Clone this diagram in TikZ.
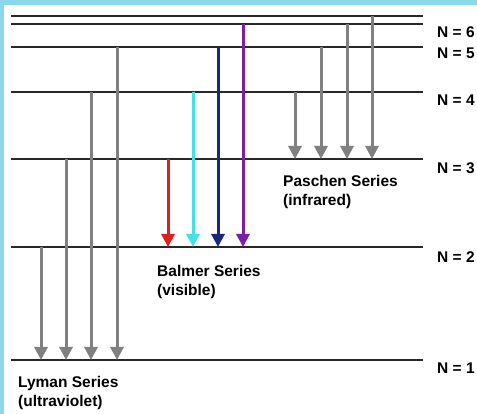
\documentclass[tikz,border=0pt]{standalone}
\usepackage{fontspec}
\setmainfont{Liberation Sans}
\usetikzlibrary{arrows.meta}
\definecolor{frameblue}{RGB}{140,216,232}
\definecolor{levelcol}{RGB}{40,40,40}
\definecolor{lymangray}{RGB}{128,128,128}
\definecolor{balred}{RGB}{225,30,30}
\definecolor{balcyan}{RGB}{70,225,230}
\definecolor{balnavy}{RGB}{25,40,125}
\definecolor{balpurple}{RGB}{125,30,170}
\tikzset{
  level/.style={draw=levelcol, line width=2pt},
  trans/.style={line width=3pt, -{Triangle[width=13pt,length=13pt]}},
  lbl/.style={font=\bfseries\fontsize{15.5}{18}\selectfont, inner sep=0pt, anchor=west},
  serieslbl/.style={font=\bfseries\fontsize{15.5}{19}\selectfont, inner sep=0pt, anchor=north west, align=left},
}
\begin{document}
\begin{tikzpicture}[x=1pt, y=-1pt]
  % page frame
  \fill[frameblue] (0,0) rectangle (477,414);
  \fill[white] (4,5) rectangle (477,414);
  \useasboundingbox (0,0) rectangle (477,414);

  % energy levels: y position of each level
  \foreach \n/\y in {7/16, 6/24, 5/47, 4/92, 3/159, 2/247, 1/360} {
    \coordinate (lvl\n W) at (11,\y);
    \coordinate (lvl\n E) at (423,\y);
    \draw[level] (lvl\n W) -- (lvl\n E);
  }

  % level labels
  \node[lbl] (n6) at (437,32)  {N = 6};
  \node[lbl] (n5) at (437,53)  {N = 5};
  \node[lbl] (n4) at (437,100) {N = 4};
  \node[lbl] (n3) at (437,168) {N = 3};
  \node[lbl] (n2) at (437,257) {N = 2};
  \node[lbl] (n1) at (437,368) {N = 1};

  % Lyman series: down to N = 1
  \foreach \x/\from in {41/2, 66/3, 91/4, 117/5} {
    \coordinate (ly\from s) at (\x, 0 |- lvl\from W);
    \coordinate (ly\from e) at (\x, 0 |- lvl1W);
    \draw[trans, lymangray] (ly\from s) -- (ly\from e);
  }

  % Balmer series: down to N = 2
  \foreach \x/\from/\c in {168/3/balred, 193/4/balcyan, 218/5/balnavy, 243/6/balpurple} {
    \coordinate (ba\from s) at (\x, 0 |- lvl\from W);
    \coordinate (ba\from e) at (\x, 0 |- lvl2W);
    \draw[trans, \c] (ba\from s) -- (ba\from e);
  }

  % Paschen series: down to N = 3
  \foreach \x/\from in {295/4, 321/5, 347/6, 372/7} {
    \coordinate (pa\from s) at (\x, 0 |- lvl\from W);
    \coordinate (pa\from e) at (\x, 0 |- lvl3W);
    \draw[trans, lymangray] (pa\from s) -- (pa\from e);
  }

  % series names
  \node[serieslbl] (paschen) at (283,175) {Paschen Series\\(infrared)};
  \node[serieslbl] (balmer)  at (157,265) {Balmer Series\\(visible)};
  \node[serieslbl] (lyman)   at (18,376)  {Lyman Series\\(ultraviolet)};
\end{tikzpicture}
\end{document}
